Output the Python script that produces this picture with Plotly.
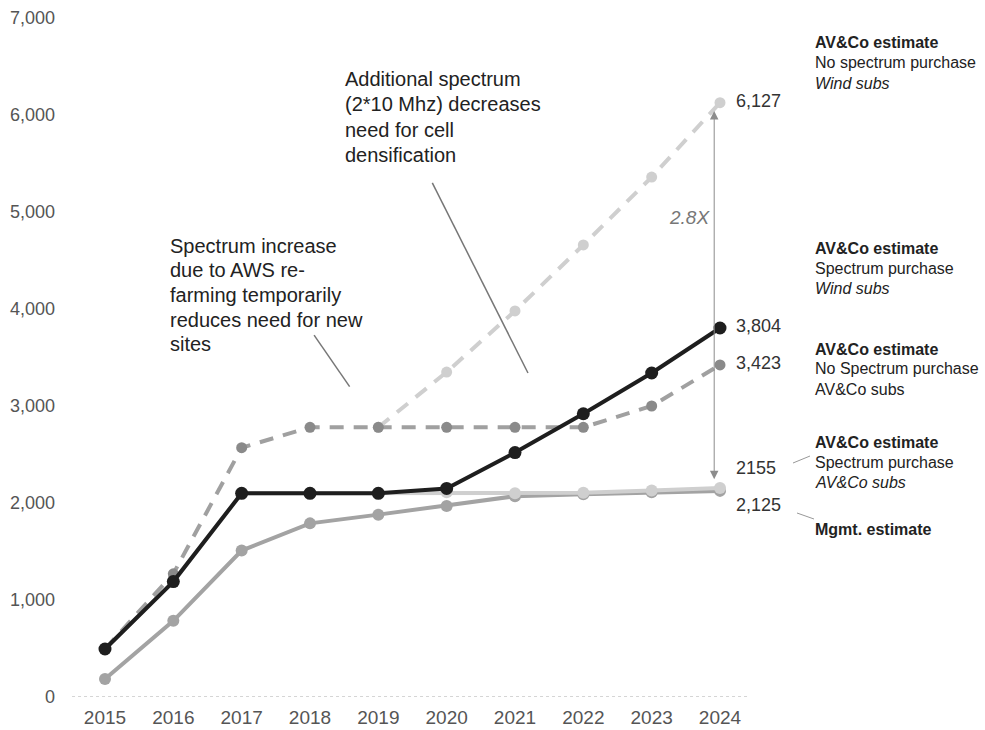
import plotly.graph_objects as go

years = [2015, 2016, 2017, 2018, 2019, 2020, 2021, 2022, 2023, 2024]

mgmt = [185, 785, 1510, 1790, 1880, 1970, 2070, 2090, 2110, 2125]
spec_avco = [495, 1190, 2100, 2100, 2100, 2110, 2100, 2105, 2130, 2155]
nospec_wind = [495, 1270, 2570, 2780, 2780, 3350, 3980, 4660, 5360, 6127]
nospec_avco = [495, 1270, 2570, 2780, 2780, 2780, 2780, 2780, 3000, 3423]
spec_wind = [495, 1190, 2100, 2100, 2100, 2150, 2520, 2920, 3340, 3804]

end_labels = ["6,127", "3,804", "3,423", "2155", "2,125"]
end_values = [nospec_wind[-1], spec_wind[-1], nospec_avco[-1], spec_avco[-1], mgmt[-1]]
end_shift = [2, 2, 2, 20, -14]

ytick_vals = [0, 1000, 2000, 3000, 4000, 5000, 6000, 7000]
ytick_text = ["0", "1,000", "2,000", "3,000", "4,000", "5,000", "6,000", "7,000"]

callout1 = ["Additional spectrum", "(2*10 Mhz) decreases", "need for cell", "densification"]
callout2 = ["Spectrum increase", "due to AWS re-", "farming temporarily", "reduces need for new", "sites"]

FONT = "Liberation Sans, Arial, sans-serif"

fig = go.Figure()

fig.add_trace(go.Scatter(x=years, y=mgmt, mode="lines+markers",
                         line=dict(color="#a3a3a3", width=4),
                         marker=dict(color="#a3a3a3", size=12)))
fig.add_trace(go.Scatter(x=years, y=spec_avco, mode="lines+markers",
                         line=dict(color="#cfcfcf", width=4),
                         marker=dict(color="#cfcfcf", size=12)))
fig.add_trace(go.Scatter(x=years[4:], y=nospec_wind[4:], mode="lines+markers",
                         line=dict(color="#cfcfcf", width=4, dash="14px,10px"),
                         marker=dict(color="#cfcfcf", size=11)))
fig.add_trace(go.Scatter(x=years, y=nospec_avco, mode="lines+markers",
                         line=dict(color="#a0a0a0", width=4, dash="14px,10px"),
                         marker=dict(color="#8a8a8a", size=11)))
fig.add_trace(go.Scatter(x=years, y=spec_wind, mode="lines+markers",
                         line=dict(color="#1e1e1e", width=4),
                         marker=dict(color="#1e1e1e", size=13)))


def px_x(px):
    return (px - 70) / 680.0


def px_y(py):
    return (697 - py) / 679.0


annotations = []
# End value labels
for lab, val, sh in zip(end_labels, end_values, end_shift):
    annotations.append(dict(x=years[-1], y=val, text=lab, showarrow=False,
                            xanchor="left", xshift=14, yshift=sh,
                            font=dict(size=18, color="#333333", family=FONT)))

# Double arrow
annotations.append(dict(x=2023.915, y=6040, ax=2023.915, ay=2230,
                        xref="x", yref="y", axref="x", ayref="y",
                        text="", showarrow=True, arrowhead=2, startarrowhead=2,
                        arrowside="end+start", arrowsize=1.7, startarrowsize=1.7,
                        arrowwidth=1, arrowcolor="#8c8c8c"))
annotations.append(dict(xref="paper", yref="paper", x=px_x(689), y=px_y(218),
                        xanchor="center", yanchor="middle",
                        text="<i>2.8X</i>", showarrow=False,
                        font=dict(size=19, color="#777777", family=FONT)))

# Callout texts, one annotation per line
c1_tops = [79, 104, 130, 155]
for line, cy in zip(callout1, c1_tops):
    annotations.append(dict(xref="paper", yref="paper", x=px_x(343), y=px_y(cy),
                            xanchor="left", yanchor="middle", text=line, showarrow=False,
                            font=dict(size=20, color="#222222", family=FONT)))
c2_tops = [246, 270, 295, 320, 344]
for line, cy in zip(callout2, c2_tops):
    annotations.append(dict(xref="paper", yref="paper", x=px_x(168), y=px_y(cy),
                            xanchor="left", yanchor="middle", text=line, showarrow=False,
                            font=dict(size=20, color="#222222", family=FONT)))

# Right-side series descriptions
legend_blocks = [
    (43, ["<b>AV&Co estimate</b>", "No spectrum purchase", "<i>Wind subs</i>"]),
    (248, ["<b>AV&Co estimate</b>", "Spectrum purchase", "<i>Wind subs</i>"]),
    (349, ["<b>AV&Co estimate</b>", "No Spectrum purchase", "AV&Co subs"]),
    (442, ["<b>AV&Co estimate</b>", "Spectrum purchase", "<i>AV&Co subs</i>"]),
    (529, ["<b>Mgmt. estimate</b>"]),
]
for top, lines in legend_blocks:
    for i, line in enumerate(lines):
        annotations.append(dict(xref="paper", yref="paper", x=px_x(813), y=px_y(top + 20 * i),
                                xanchor="left", yanchor="middle", align="left",
                                text=line, showarrow=False,
                                font=dict(size=16, color="#222222", family=FONT)))

shapes = [
    # dotted baseline
    dict(type="line", xref="paper", yref="y", x0=0.003, x1=0.998, y0=0, y1=0,
         line=dict(color="#aaaaaa", width=1, dash="dot")),
    # callout leader lines
    dict(type="line", xref="x", yref="y", x0=2019.79, y0=5300, x1=2021.19, y1=3340,
         line=dict(color="#777777", width=1.5)),
    dict(type="line", xref="x", yref="y", x0=2018.06, y0=3730, x1=2018.58, y1=3200,
         line=dict(color="#777777", width=1.5)),
    # label leader lines
    dict(type="line", xref="paper", yref="paper", x0=px_x(793), y0=px_y(463),
         x1=px_x(810), y1=px_y(456), line=dict(color="#999999", width=1)),
    dict(type="line", xref="paper", yref="paper", x0=px_x(797), y0=px_y(513),
         x1=px_x(814), y1=px_y(519), line=dict(color="#999999", width=1)),
]

fig.update_layout(
    width=985, height=730,
    margin=dict(l=70, r=235, t=18, b=33, autoexpand=False),
    paper_bgcolor="white", plot_bgcolor="white",
    showlegend=False,
    font=dict(family=FONT, color="#555555"),
    annotations=annotations,
    shapes=shapes,
)
fig.update_xaxes(range=[2014.488, 2024.439], tickvals=years, ticktext=[str(y) for y in years],
                 showgrid=False, zeroline=False, showline=False, ticks="",
                 automargin=False, ticklabelstandoff=7,
                 tickfont=dict(size=19, color="#555555", family=FONT))
fig.update_yaxes(range=[0, 7000], tickvals=ytick_vals, ticktext=ytick_text,
                 showgrid=False, zeroline=False, showline=False, ticks="",
                 automargin=False, ticklabelstandoff=14,
                 tickfont=dict(size=18, color="#555555", family=FONT))

fig.write_html("out.html")
